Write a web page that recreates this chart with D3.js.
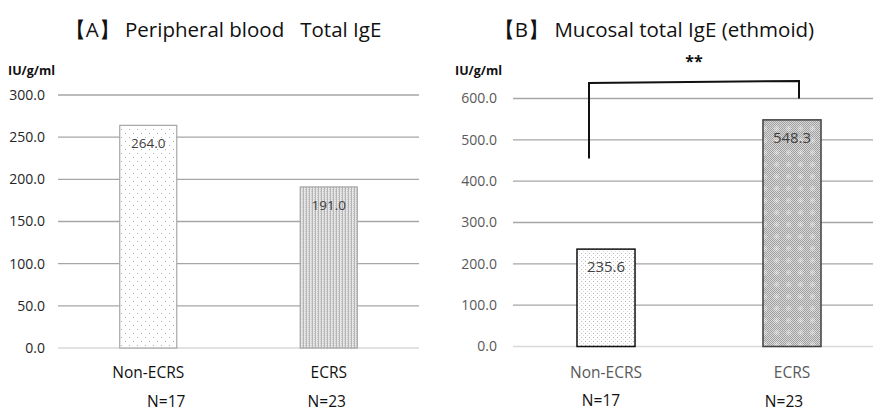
<!DOCTYPE html>
<html>
  <head>
    <meta charset="UTF-8">
    <style>
      body {
        margin: 0;
        background: #fff;
        font-family: "Open Sans", "Noto Sans", sans-serif;
      }

      text {
        white-space: pre;
      }

      .title {
        font-size: 20.5px;
        fill: #111;
      }

      .unit {
        font-size: 12.5px;
        font-weight: bold;
        fill: #111;
      }

      .grid line {
        stroke: #a6a6a6;
        stroke-width: 1.3;
      }

      .grid .zero {
        stroke: #d9d9d9;
      }
    </style>
    <script src="https://d3js.org/d3.v7.min.js"></script>
  </head>

  <body>
    <svg id="chart"></svg>

    <script type="text/javascript">
      // values
      const categories = ['Non-ECRS', 'ECRS']
      const sampleSizes = ['N=17', 'N=23']

      const bloodValues = [264.0, 191.0]
      const bloodTicks = [0, 50, 100, 150, 200, 250, 300]

      const mucosalValues = [235.6, 548.3]
      const mucosalTicks = [0, 100, 200, 300, 400, 500, 600]

      // significance bracket in chart B (data units)
      const bracketLevels = { left: 455, top: 640, right: 600 }
      const bracketLabel = '**'

      const width = 873
      const height = 411

      const svg = d3.select('#chart')
        .attr('width', width)
        .attr('height', height)

      const defs = svg.append('defs')

      function makePattern(id, w, h, bg, dots) {
        let p = defs.append('pattern')
          .attr('id', id)
          .attr('patternUnits', 'userSpaceOnUse')
          .attr('width', w)
          .attr('height', h)
        p.append('rect').attr('width', w).attr('height', h).attr('fill', bg)
        dots.forEach(d => {
          p.append('rect')
            .attr('x', d[0]).attr('y', d[1])
            .attr('width', d[2]).attr('height', d[3])
            .attr('fill', d[4])
            .attr('opacity', d[5] || 1)
        })
        return p
      }

      // sparse dots
      makePattern('patA0', 8, 8, '#ffffff', [[1, 1, 1, 1, '#b0b0b0'], [5, 5, 1, 1, '#b0b0b0']])
      // fine vertical grain
      makePattern('patA1', 3, 2, '#e6e6e6', [[0, 0, 1, 2, '#b5b5b5'], [2, 1, 1, 1, '#c8c8c8']])
      // small dense dots
      makePattern('patB0', 4, 4, '#ffffff', [[1, 1, 1, 1, '#b8b8b8'], [3, 3, 1, 1, '#d8d8d8']])
      // checker with lighter blocks
      makePattern('chk', 2, 2, '#d8d8d8', [[0, 0, 1, 1, '#a0a0a0'], [1, 1, 1, 1, '#a0a0a0']])
      makePattern('patB1', 12, 12, 'url(#chk)', [
        [6, 6, 5, 5, '#ffffff', 0.2],
        [8, 5, 1, 7, '#ffffff', 0.15],
        [5, 8, 7, 1, '#ffffff', 0.15]
      ])

      function drawPanel(cfg) {
        let g = svg.append('g')

        let x = d3.scaleBand()
          .domain(categories)
          .range(cfg.xRange)
          .paddingInner(cfg.pad)
          .paddingOuter(cfg.pad / 2)

        let y = d3.scaleLinear()
          .domain([0, d3.max(cfg.ticks)])
          .range(cfg.yRange)

        g.append('text')
          .attr('class', 'title')
          .attr('x', cfg.titleX)
          .attr('y', 37)
          .attr('text-anchor', 'middle')
          .text(cfg.title)

        g.append('text')
          .attr('class', 'unit')
          .attr('x', cfg.unitX)
          .attr('y', 75)
          .text('IU/g/ml')

        let grid = g.append('g').attr('class', 'grid')
        grid.selectAll('line')
          .data(cfg.ticks)
          .enter()
          .append('line')
          .attr('class', d => d === 0 ? 'zero' : null)
          .attr('x1', cfg.xRange[0])
          .attr('x2', cfg.gridEnd)
          .attr('y1', d => y(d))
          .attr('y2', d => y(d))

        g.append('g')
          .selectAll('text')
          .data(cfg.ticks)
          .enter()
          .append('text')
          .attr('x', cfg.tickX)
          .attr('y', d => y(d))
          .attr('dy', '0.35em')
          .attr('text-anchor', 'end')
          .style('font-size', '14px')
          .style('fill', cfg.tickColor)
          .text(d => d.toFixed(1))

        let bars = g.append('g')
          .selectAll('g')
          .data(cfg.values)
          .enter()
          .append('g')

        bars.append('rect')
          .attr('x', (d, i) => x(categories[i]))
          .attr('y', d => y(d))
          .attr('width', x.bandwidth())
          .attr('height', d => y(0) - y(d))
          .attr('fill', (d, i) => `url(#${cfg.patterns[i]})`)
          .attr('stroke', (d, i) => cfg.barStroke[i])
          .attr('stroke-width', cfg.barStrokeWidth)

        bars.append('text')
          .attr('x', (d, i) => x(categories[i]) + x.bandwidth() / 2)
          .attr('y', d => y(d) + 18)
          .attr('dy', '0.35em')
          .attr('text-anchor', 'middle')
          .style('font-size', cfg.labelSize)
          .style('fill', '#404040')
          .text(d => d.toFixed(1))

        g.append('g')
          .selectAll('text')
          .data(categories)
          .enter()
          .append('text')
          .attr('x', d => x(d) + x.bandwidth() / 2)
          .attr('y', 378)
          .attr('text-anchor', 'middle')
          .style('font-size', '15.5px')
          .style('fill', cfg.catColor)
          .text(d => d)

        g.append('g')
          .selectAll('text')
          .data(sampleSizes)
          .enter()
          .append('text')
          .attr('x', (d, i) => x(categories[i]) + x.bandwidth() / 2 + cfg.nShift[i])
          .attr('y', (d, i) => cfg.nY[i])
          .attr('text-anchor', 'middle')
          .style('font-size', '15.5px')
          .style('fill', '#111')
          .text(d => d)

        return { g, x, y }
      }

      drawPanel({
        title: '【A】 Peripheral blood   Total IgE',
        titleX: 223,
        unitX: 8,
        xRange: [58, 419],
        gridEnd: 419,
        yRange: [348, 95],
        pad: 0.684,
        ticks: bloodTicks,
        tickX: 45,
        tickColor: '#262626',
        values: bloodValues,
        patterns: ['patA0', 'patA1'],
        barStroke: ['#a6a6a6', '#a6a6a6'],
        barStrokeWidth: 1.2,
        labelSize: '13.5px',
        catColor: '#111',
        nShift: [18, -2],
        nY: [407, 407]
      })

      let right = drawPanel({
        title: '【B】 Mucosal total IgE (ethmoid)',
        titleX: 654,
        unitX: 455,
        xRange: [513, 885],
        gridEnd: 885,
        yRange: [346.5, 98.5],
        pad: 0.688,
        ticks: mucosalTicks,
        tickX: 497,
        tickColor: '#595959',
        values: mucosalValues,
        patterns: ['patB0', 'patB1'],
        barStroke: ['#111', '#404040'],
        barStrokeWidth: 1.5,
        labelSize: '15px',
        catColor: '#595959',
        nShift: [-5, -8],
        nY: [406, 407]
      })

      // significance bracket
      let bx = right.x
      let by = right.y
      let xl = bx(categories[0]) + bx.bandwidth() / 2 - 17
      let xr = bx(categories[1]) + bx.bandwidth() / 2 + 7
      right.g.append('path')
        .attr('d', `M${xl},${by(bracketLevels.left)} L${xl},${by(bracketLevels.top) + 1} L${xr},${by(bracketLevels.top) - 1} L${xr},${by(bracketLevels.right)}`)
        .attr('fill', 'none')
        .attr('stroke', '#111')
        .attr('stroke-width', 2)

      right.g.append('text')
        .attr('x', (xl + xr) / 2)
        .attr('y', by(bracketLevels.top) - 15)
        .attr('text-anchor', 'middle')
        .style('font-size', '16px')
        .style('font-weight', 'bold')
        .style('fill', '#111')
        .text(bracketLabel)
    </script>
  </body>
</html>
